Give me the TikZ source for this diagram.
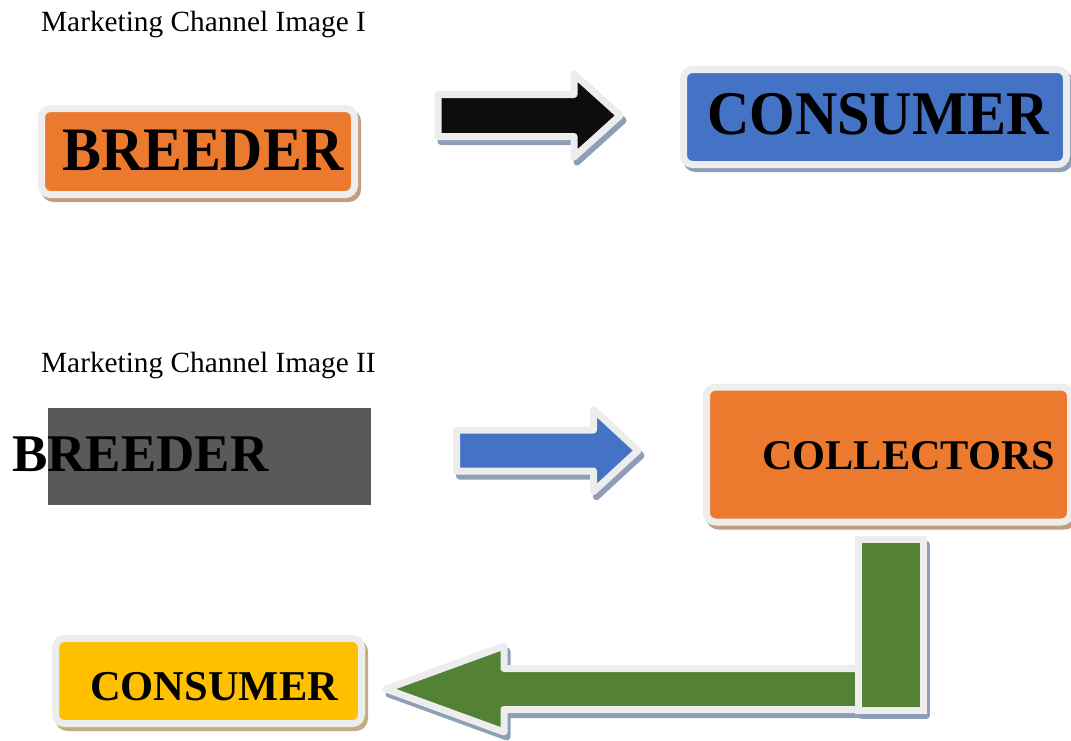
\documentclass[tikz,border=0pt]{standalone}
\usepackage{fontspec}
\setmainfont{Liberation Serif}
\usetikzlibrary{shadows}
\definecolor{rimgray}{HTML}{EDEDED}
\definecolor{orangeF}{HTML}{EB7A2F}
\definecolor{blueF}{HTML}{4472C4}
\definecolor{yellowF}{HTML}{FFC000}
\definecolor{greenF}{HTML}{548235}
\definecolor{blackF}{HTML}{0D0D0D}
\definecolor{darkgrayF}{HTML}{595959}
\definecolor{shOrange}{HTML}{C49C80}
\definecolor{shBlue}{HTML}{8E9EB6}
\definecolor{shYellow}{HTML}{C1AF82}
\newcommand{\fatarrowpath}[6]{(#1,#4-#5) -- (#2,#4-#5) -- (#2,#4-#6) -- (#3,#4) -- (#2,#4+#6) -- (#2,#4+#5) -- (#1,#4+#5) -- cycle}
\begin{document}
\begin{tikzpicture}[x=1pt,y=-1pt,line join=round]
\useasboundingbox (0,0) rectangle (1071,740);
\tikzset{
  rim/.style={draw=rimgray, line width=7pt},
  boxshape/.style={rectangle, rounded corners=9pt, inner sep=0pt, rim,
    general shadow={shadow xshift=3pt, shadow yshift=-4pt, fill=#1, draw=#1, line width=7pt}},
  title/.style={anchor=base west, inner sep=0pt, font=\fontsize{29.3}{35}\selectfont},
  lbl/.style={anchor=base west, inner sep=0pt, font=\bfseries\fontsize{#1}{#1}\selectfont},
  arrowshadow/.style={fill=shBlue, draw=shBlue, line width=7pt, shift={(3,5)}}
}
% ---------- Image I ----------
\node[title] (t1) at (41,31) {Marketing Channel Image I};
\node[boxshape=shOrange, fill=orangeF, minimum width=313pt, minimum height=86pt] (b1) at (198,151.5) {};
\node[lbl=58.3] (b1t) at (62,170) {\scalebox{1}[1.06]{BREEDER}};
\fill[arrowshadow] \fatarrowpath{438}{574}{620}{115.5}{21}{41.5};
\fill[blackF, rim] \fatarrowpath{438}{574}{620}{115.5}{21}{41.5};
\node[boxshape=shBlue, fill=blueF, minimum width=383pt, minimum height=95pt] (c1) at (875,117) {};
\node[lbl=58.6] (c1t) at (707,134) {\scalebox{1}[1.06]{CONSUMER}};
% ---------- Image II ----------
\node[title] (t2) at (41,372) {Marketing Channel Image II};
\node[fill=darkgrayF, minimum width=323pt, minimum height=97pt, inner sep=0pt] (b2) at (209.5,456.5) {};
\node[lbl=53] (b2t) at (12,471) {BREEDER};
\fill[arrowshadow] \fatarrowpath{456.5}{593.5}{638}{450.5}{20.5}{41};
\fill[blueF, rim] \fatarrowpath{456.5}{593.5}{638}{450.5}{20.5}{41};
\node[boxshape=shOrange, fill=orangeF, minimum width=364pt, minimum height=135pt] (k2) at (888.5,454.5) {};
\node[lbl=42.3] (k2t) at (762,469) {COLLECTORS};
% green bent arrow
\fill[arrowshadow] \fatarrowpath{860}{504}{386}{689}{20.5}{43};
\fill[arrowshadow] (858.5,539) rectangle (923.5,710);
\fill[greenF, rim] \fatarrowpath{860}{504}{386}{689}{20.5}{43};
\fill[greenF, rim, line join=miter] (858.5,539) rectangle (923.5,710);
\node[boxshape=shYellow, fill=yellowF, minimum width=306pt, minimum height=85pt] (c2) at (208.5,681) {};
\node[lbl=42.5] (c2t) at (90,700) {CONSUMER};
\end{tikzpicture}
\end{document}
